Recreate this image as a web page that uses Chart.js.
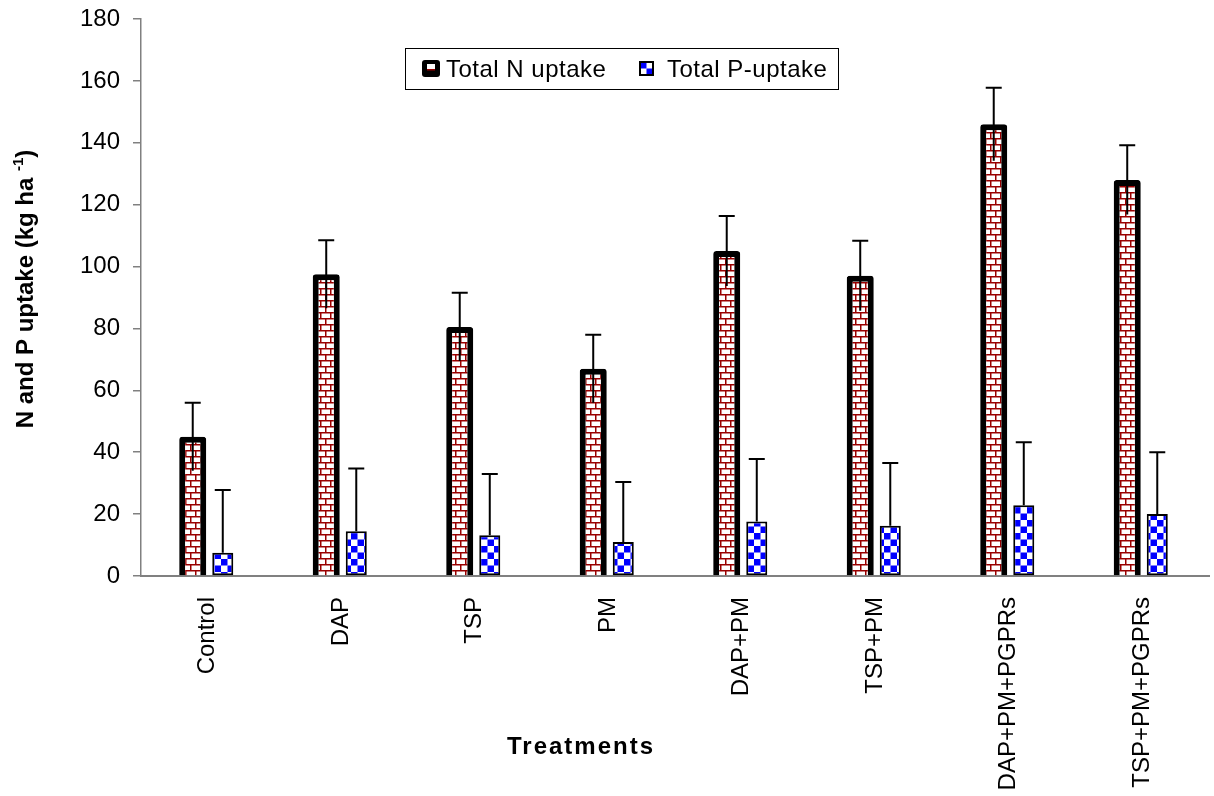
<!DOCTYPE html>
<html>
<head>
<meta charset="utf-8">
<script src="https://cdn.jsdelivr.net/npm/chart.js@4.4.1/dist/chart.umd.min.js"></script>
<style>
  html, body { margin: 0; background: #fff; }
  #wrap { width: 1214px; height: 796px; }
</style>
</head>
<body>
<div id="wrap"><canvas id="chart"></canvas></div>
<script>
// N and P uptake by treatment
const treatments = ['Control', 'DAP', 'TSP', 'PM', 'DAP+PM', 'TSP+PM', 'DAP+PM+PGPRs', 'TSP+PM+PGPRs'];
const nUptake = [45, 97.5, 80.5, 67, 105, 97, 146, 128];
const nError  = [11, 11, 11, 11, 11.3, 11.3, 11.8, 11.2];
const pUptake = [7.5, 14.5, 13.2, 11, 17.6, 16.2, 22.9, 20];
const pError  = [20.3, 20.2, 19.8, 19.4, 20.2, 20.3, 20.3, 20];
const yMin = 0, yMax = 180, yStep = 20;

const FONT = "'Liberation Sans', Arial, sans-serif";

function brickPattern() {
  const c = document.createElement('canvas');
  c.width = 10; c.height = 12;
  const g = c.getContext('2d');
  g.fillStyle = '#fff'; g.fillRect(0, 0, 10, 12);
  g.fillStyle = '#990000';
  g.fillRect(0, 0, 10, 1.5);
  g.fillRect(0, 6, 10, 1.5);
  g.fillRect(0, 0, 1.5, 6);
  g.fillRect(5, 6, 1.5, 6);
  return g.createPattern(c, 'repeat');
}

function checkerPattern() {
  const c = document.createElement('canvas');
  c.width = 13; c.height = 13;
  const g = c.getContext('2d');
  g.fillStyle = '#fff'; g.fillRect(0, 0, 13, 13);
  g.fillStyle = '#0000ff';
  g.fillRect(0, 0, 6.5, 6.5);
  g.fillRect(6.5, 6.5, 6.5, 6.5);
  return g.createPattern(c, 'repeat');
}

// error bars: top cap only, N whisker runs down into the bar
const errorBars = {
  id: 'errorBars',
  afterDatasetsDraw(chart) {
    const ctx = chart.ctx, y = chart.scales.y;
    chart.data.datasets.forEach((ds, i) => {
      const meta = chart.getDatasetMeta(i);
      meta.data.forEach((bar, j) => {
        const v = ds.data[j], e = ds.errors[j];
        const top = y.getPixelForValue(v + e);
        const bot = ds.errDown ? y.getPixelForValue(Math.max(0, v - e)) : y.getPixelForValue(v);
        ctx.save();
        ctx.strokeStyle = '#000';
        ctx.lineWidth = 2;
        ctx.beginPath();
        ctx.moveTo(bar.x, bot);
        ctx.lineTo(bar.x, top);
        ctx.moveTo(bar.x - 8, top);
        ctx.lineTo(bar.x + 8, top);
        ctx.stroke();
        ctx.restore();
      });
    });
  }
};

// axis titles and the boxed legend
const decorations = {
  id: 'decorations',
  afterDraw(chart) {
    const ctx = chart.ctx;
    ctx.save();
    ctx.fillStyle = '#000';

    // y title with superscript
    ctx.save();
    ctx.translate(33, 289);
    ctx.rotate(-Math.PI / 2);
    const main = 'N and P uptake (kg ha ';
    const sup = '-1';
    const end = ')';
    ctx.font = 'bold 24px ' + FONT;
    const wMain = ctx.measureText(main).width;
    const wEnd = ctx.measureText(end).width;
    ctx.font = 'bold 15px ' + FONT;
    const wSup = ctx.measureText(sup).width;
    let x = -(wMain + wSup + wEnd) / 2;
    ctx.textBaseline = 'alphabetic';
    ctx.font = 'bold 24px ' + FONT;
    ctx.fillText(main, x, 0); x += wMain;
    ctx.font = 'bold 15px ' + FONT;
    ctx.fillText(sup, x, -10); x += wSup;
    ctx.font = 'bold 24px ' + FONT;
    ctx.fillText(end, x, 0);
    ctx.restore();

    // x title
    ctx.font = 'bold 24px ' + FONT;
    ctx.letterSpacing = '2px';
    ctx.textAlign = 'center';
    ctx.textBaseline = 'alphabetic';
    ctx.fillText('Treatments', 581, 754);
    ctx.letterSpacing = '0px';

    // legend box
    ctx.strokeStyle = '#000';
    ctx.lineWidth = 1;
    ctx.strokeRect(405.5, 48.5, 433, 41);
    const ds = chart.data.datasets;
    // N icon
    ctx.fillStyle = '#000';
    ctx.beginPath();
    ctx.roundRect(422, 60, 18, 17, 3);
    ctx.fill();
    ctx.fillStyle = '#fff';
    ctx.fillRect(427, 64, 8, 6);
    ctx.fillStyle = '#990000';
    ctx.fillRect(427, 69, 8, 1.5);
    // P icon
    ctx.fillStyle = '#000';
    ctx.fillRect(639, 61, 15, 15);
    ctx.fillStyle = '#fff';
    ctx.fillRect(641, 63, 11, 11);
    ctx.fillStyle = '#0000ff';
    ctx.fillRect(641, 63, 5.5, 5.5);
    ctx.fillRect(646.5, 68.5, 5.5, 5.5);

    ctx.fillStyle = '#000';
    ctx.font = '24px ' + FONT;
    ctx.letterSpacing = '0.5px';
    ctx.textAlign = 'left';
    ctx.fillText(ds[0].label, 446, 77);
    ctx.fillText(ds[1].label, 667, 77);
    ctx.restore();
  }
};

new Chart(document.getElementById('chart'), {
  type: 'bar',
  data: {
    labels: treatments,
    datasets: [
      {
        label: 'Total N uptake',
        data: nUptake,
        errors: nError,
        errDown: true,
        backgroundColor: brickPattern(),
        borderColor: '#000',
        borderWidth: 6,
        borderRadius: 3,
        borderSkipped: 'start',
        categoryPercentage: 0.45,
        barPercentage: 0.9
      },
      {
        label: 'Total P-uptake',
        data: pUptake,
        errors: pError,
        errDown: false,
        backgroundColor: checkerPattern(),
        borderColor: '#000',
        borderWidth: 2,
        borderSkipped: false,
        categoryPercentage: 0.45,
        barPercentage: 0.7
      }
    ]
  },
  options: {
    responsive: true,
    maintainAspectRatio: false,
    animation: false,
    layout: { padding: { left: 0, right: 5, top: 19, bottom: 0 } },
    plugins: { legend: { display: false }, tooltip: { enabled: false } },
    scales: {
      x: {
        grid: { display: false, drawTicks: false },
        border: { display: true, color: '#808080', width: 2 },
        ticks: { color: '#000', font: { family: FONT, size: 24 }, maxRotation: 90, minRotation: 90, padding: 21, autoSkip: false },
        afterFit: s => { s.height = 220; s.paddingLeft = 0; s.paddingRight = 0; }
      },
      y: {
        min: yMin, max: yMax,
        grid: { drawOnChartArea: false, drawTicks: true, tickLength: 8, color: '#808080', lineWidth: 1.5 },
        border: { display: true, color: '#808080', width: 1.5 },
        ticks: { stepSize: yStep, color: '#000', font: { family: FONT, size: 24 }, padding: 13 },
        afterFit: s => { s.width = 141; s.paddingTop = 0; s.paddingBottom = 0; }
      }
    }
  },
  plugins: [errorBars, decorations]
});
</script>
</body>
</html>
